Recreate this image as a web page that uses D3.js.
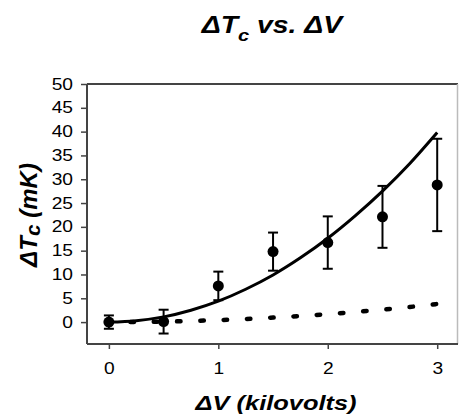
<!DOCTYPE html>
<html>
<head>
<meta charset="utf-8">
<script src="https://cdn.jsdelivr.net/npm/d3@7"></script>
<style>
  body { margin: 0; background: #fff; }
  text { font-family: "Liberation Sans", Arial, sans-serif; fill: #000; }
  .axis text { font-size: 16px; }
</style>
</head>
<body>
<div id="chart"></div>
<script>
// measured points with error bars
const voltage = [0, 0.5, 1, 1.5, 2, 2.5, 3];
const deltaTc = [0, 0.1, 7.6, 14.8, 16.7, 22.1, 28.8];
const errorBar = [1.4, 2.5, 3, 4, 5.5, 6.5, 9.7];

// model curves
const curveV = [0, 0.25, 0.5, 0.75, 1, 1.25, 1.5, 1.75, 2, 2.25, 2.5, 2.75, 3];
const solidT = [0, 0.3, 1.1, 2.5, 4.4, 6.9, 9.9, 13.5, 17.6, 22.3, 27.5, 33.3, 39.8];
const dashedT = [0, 0.03, 0.1, 0.24, 0.42, 0.66, 0.95, 1.29, 1.68, 2.13, 2.63, 3.18, 3.8];

const xTicks = [0, 1, 2, 3];
const yTicks = [0, 5, 10, 15, 20, 25, 30, 35, 40, 45, 50];

const width = 459, height = 420;
const plot = { left: 87, right: 458, top: 84, bottom: 344 };
const stretch = 1.2; // the original text looks a bit wide

const svg = d3.select("#chart").append("svg")
    .attr("width", width)
    .attr("height", height);

const x = d3.scaleLinear().domain([-0.2, 3.19]).range([plot.left, plot.right]);
const y = d3.scaleLinear().domain([-4.6, 50]).range([plot.bottom, plot.top]);

// frame: top + right lines
svg.append("line")
    .attr("x1", plot.left).attr("x2", plot.right)
    .attr("y1", plot.top).attr("y2", plot.top)
    .attr("stroke", "#444").attr("stroke-width", 2);
svg.append("line")
    .attr("x1", plot.right - 0.5).attr("x2", plot.right - 0.5)
    .attr("y1", plot.top).attr("y2", plot.bottom)
    .attr("stroke", "#bbb").attr("stroke-width", 1.5);

// y axis
const yAxis = svg.append("g")
    .attr("class", "axis")
    .attr("transform", `translate(${plot.left},0)`)
    .call(d3.axisLeft(y).tickValues(yTicks).tickSize(6).tickPadding(8));
yAxis.attr("font-size", null).attr("font-family", null);
yAxis.select(".domain").attr("stroke", "#444").attr("stroke-width", 2)
    .attr("d", `M0,${plot.top}V${plot.bottom}`);
yAxis.selectAll(".tick line").attr("stroke", "#444").attr("stroke-width", 1.5);
yAxis.selectAll(".tick text")
    .attr("x", -14 / stretch)
    .attr("transform", `scale(${stretch},1)`)
    .attr("fill", "#000");

// x axis
const xAxis = svg.append("g")
    .attr("class", "axis")
    .attr("transform", `translate(0,${plot.bottom})`)
    .call(d3.axisBottom(x).tickValues(xTicks).tickFormat(d3.format("d")).tickSize(5).tickPadding(14));
xAxis.attr("font-size", null).attr("font-family", null);
xAxis.select(".domain").attr("stroke", "#444").attr("stroke-width", 2)
    .attr("d", `M${plot.left},0H${plot.right}`);
xAxis.selectAll(".tick line").attr("stroke", "#444").attr("stroke-width", 1.5);
xAxis.selectAll(".tick text")
    .attr("y", 19).attr("dy", "0.71em")
    .attr("transform", `scale(${stretch},1)`)
    .attr("fill", "#000");

// curves
const curveData = curveV.map((v, i) => ({ v, s: solidT[i], d: dashedT[i] }));

svg.append("path")
    .datum(curveData)
    .attr("fill", "none")
    .attr("stroke", "#000")
    .attr("stroke-width", 4.5)
    .attr("stroke-linecap", "round")
    .attr("stroke-dasharray", "3.5,19.8")
    .attr("stroke-dashoffset", 1.75)
    .attr("d", d3.line().curve(d3.curveMonotoneX).x(d => x(d.v)).y(d => y(d.d)));

svg.append("path")
    .datum(curveData)
    .attr("fill", "none")
    .attr("stroke", "#000")
    .attr("stroke-width", 3)
    .attr("d", d3.line().curve(d3.curveMonotoneX).x(d => x(d.v)).y(d => y(d.s)));

// error bars + points
const pts = voltage.map((v, i) => ({ v, t: deltaTc[i], e: errorBar[i] }));
const g = svg.append("g").selectAll("g").data(pts).join("g");
g.append("line")
    .attr("x1", d => x(d.v)).attr("x2", d => x(d.v))
    .attr("y1", d => y(d.t - d.e)).attr("y2", d => y(d.t + d.e))
    .attr("stroke", "#000").attr("stroke-width", 2);
g.append("line")
    .attr("x1", d => x(d.v) - 5).attr("x2", d => x(d.v) + 5)
    .attr("y1", d => y(d.t + d.e)).attr("y2", d => y(d.t + d.e))
    .attr("stroke", "#000").attr("stroke-width", 2);
g.append("line")
    .attr("x1", d => x(d.v) - 5).attr("x2", d => x(d.v) + 5)
    .attr("y1", d => y(d.t - d.e)).attr("y2", d => y(d.t - d.e))
    .attr("stroke", "#000").attr("stroke-width", 2);
g.append("circle")
    .attr("cx", d => x(d.v)).attr("cy", d => y(d.t))
    .attr("r", 5.5).attr("fill", "#000");

// title
const title = svg.append("text")
    .attr("transform", `translate(272,33) scale(1.18,1)`)
    .attr("text-anchor", "middle")
    .style("font-size", "24px").style("font-weight", "bold").style("font-style", "italic");
title.append("tspan").text("ΔT");
title.append("tspan").attr("dy", 8).style("font-size", "17px").text("c");
title.append("tspan").attr("dy", -8).text(" vs. ΔV");

// x axis title
svg.append("text")
    .attr("transform", `translate(276,410) scale(1.27,1)`)
    .attr("text-anchor", "middle")
    .style("font-size", "20px").style("font-weight", "bold").style("font-style", "italic")
    .text("ΔV (kilovolts)");

// y axis title
const yt = svg.append("text")
    .attr("transform", "translate(37,215) rotate(-90)")
    .attr("text-anchor", "middle")
    .style("font-size", "24px").style("font-weight", "bold").style("font-style", "italic");
yt.append("tspan").text("ΔT");
yt.append("tspan").attr("dy", 3).style("font-size", "21px").text("c");
yt.append("tspan").attr("dy", -3).text(" (mK)");
</script>
</body>
</html>
